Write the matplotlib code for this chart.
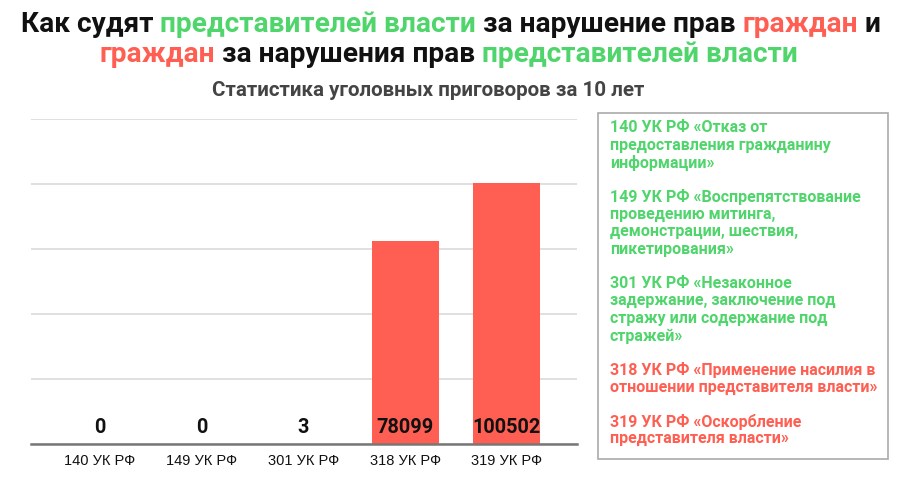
import matplotlib
matplotlib.use("Agg")
import matplotlib.pyplot as plt
from matplotlib.patches import Rectangle

categories = ["140 УК РФ", "149 УК РФ", "301 УК РФ", "318 УК РФ", "319 УК РФ"]
values = [0, 0, 3, 78099, 100502]
value_labels = ["0", "0", "3", "78099", "100502"]
legend_items = [
    "140 УК РФ «Отказ от\nпредоставления гражданину\nинформации»",
    "149 УК РФ «Воспрепятствование\nпроведению митинга,\nдемонстрации, шествия,\nпикетирования»",
    "301 УК РФ «Незаконное\nзадержание, заключение под\nстражу или содержание под\nстражей»",
    "318 УК РФ «Применение насилия в\nотношении представителя власти»",
    "319 УК РФ «Оскорбление\nпредставителя власти»",
]
legend_groups = ["green", "green", "green", "red", "red"]
title_line1 = [("Как судят ", "black"), ("представителей власти", "green"),
               (" за нарушение прав ", "black"), ("граждан", "red"), (" и", "black")]
title_line2 = [("граждан", "red"), (" за нарушения прав ", "black"),
               ("представителей власти", "green")]
subtitle = "Статистика уголовных приговоров за 10 лет"

GREEN = "#4fd56b"
RED = "#ff5f52"
colmap = {"green": GREEN, "red": RED, "black": "#111111"}
FAM = ["Roboto", "DejaVu Sans"]

W, H = 900, 478
fig = plt.figure(figsize=(W / 100, H / 100), dpi=100)
renderer = fig.canvas.get_renderer()


def text_width(s, **kw):
    t = fig.text(0, 0, s + "x", **kw)
    w1 = t.get_window_extent(renderer).width
    t.remove()
    t = fig.text(0, 0, "x", **kw)
    w2 = t.get_window_extent(renderer).width
    t.remove()
    return w1 - w2


def fit_size(s, target, base=10, **kw):
    w = text_width(s, fontsize=base, **kw)
    return base * target / w


def colored_line(segs, cx, cy, **kw):
    full = "".join(s for s, _ in segs)
    total = text_width(full, **kw)
    x0 = cx - total / 2
    prefix = ""
    for s, c in segs:
        off = text_width(prefix, **kw) if prefix else 0
        fig.text((x0 + off) / W, 1 - cy / H, s, color=colmap[c], ha="left",
                 va="center", **kw)
        prefix += s


# title
tsize = fit_size("".join(s for s, _ in title_line1), 865, fontweight="bold", family=FAM)
tkw = dict(fontsize=tsize, fontweight="bold", family=FAM)
colored_line(title_line1, 451, 24, **tkw)
colored_line(title_line2, 449, 55, **tkw)

ssize = fit_size(subtitle, 435, fontweight="bold", family=FAM)
fig.text(428 / W, 1 - 91 / H, subtitle, ha="center", va="center", fontsize=ssize,
         fontweight="bold", color="#444444", family=FAM)

# bar axes
ax_l, ax_r, ax_t, ax_b = 31, 577, 119, 444
ax = fig.add_axes([ax_l / W, 1 - ax_b / H, (ax_r - ax_l) / W, (ax_b - ax_t) / H])
x = list(range(len(categories)))
ax.bar(x, values, width=0.66, color=RED, zorder=3)
ax.set_xlim(-0.678, 4.69)
ax.set_ylim(0, 125000)
ax.set_yticks([0, 25000, 50000, 75000, 100000, 125000])
ax.yaxis.grid(True, color="#dddddd", linewidth=1.3, zorder=0)
ax.tick_params(axis="y", left=False, labelleft=False)
ax.tick_params(axis="x", length=0, pad=7, labelsize=10.5)
ax.set_xticks(x)
ax.set_xticklabels(categories, family=["Liberation Sans", "DejaVu Sans"], color="#111111")
for sp in ["top", "left", "right"]:
    ax.spines[sp].set_visible(False)
ax.spines["bottom"].set_color("#777777")
ax.spines["bottom"].set_linewidth(1.8)
ax.spines["bottom"].set_zorder(4)
for xi, lab in zip(x, value_labels):
    ax.annotate(lab, (xi, 0), xytext=(0, 12), textcoords="offset points",
                ha="center", va="center", fontsize=14.3, fontweight="bold",
                color="#111111", family=FAM, zorder=5)

# legend box
bx0, by0, bx1, by1 = 598, 113, 888, 459
fig.patches.append(Rectangle((bx0 / W, 1 - by1 / H), (bx1 - bx0) / W, (by1 - by0) / H,
                             transform=fig.transFigure, fill=False,
                             edgecolor="#aaaaaa", linewidth=1.2))
lsize = fit_size("318 УК РФ «Применение насилия в", 266, fontweight="bold", family=FAM)
line_h = 17.5
gap = 34
y = 128
for item, g in zip(legend_items, legend_groups):
    for ln in item.split("\n"):
        fig.text(610 / W, 1 - y / H, ln, ha="left", va="center", fontsize=lsize,
                 fontweight="bold", color=colmap[g], family=FAM)
        y += line_h
    y += gap - line_h

fig.savefig("out.png", dpi=100, facecolor="white")
